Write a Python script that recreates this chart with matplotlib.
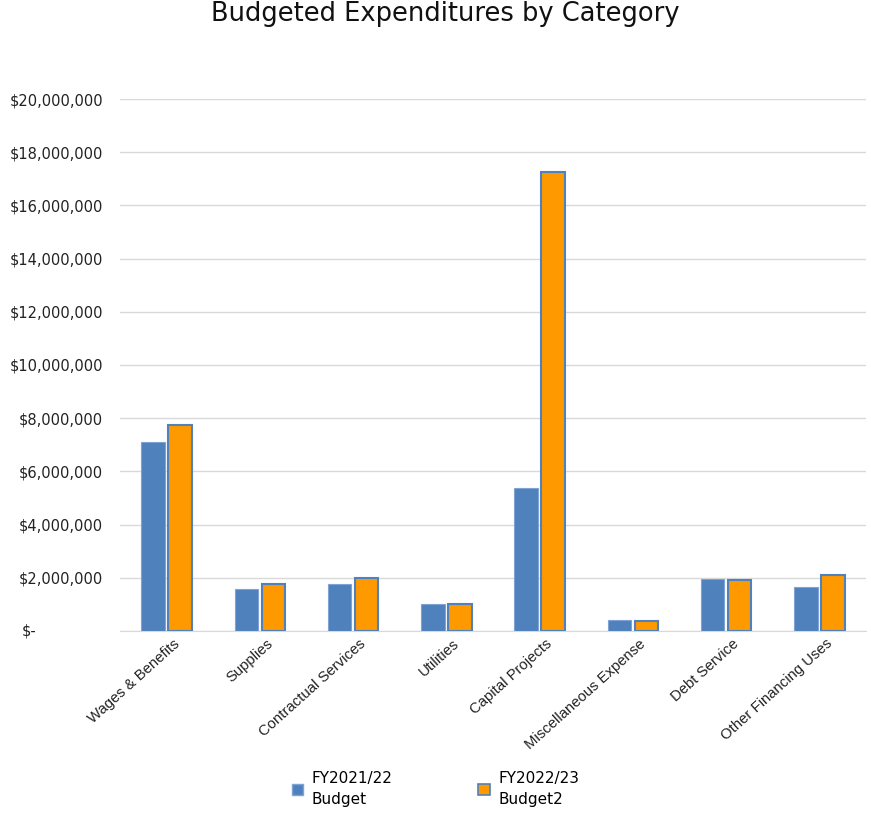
import matplotlib
matplotlib.use("Agg")
import matplotlib.pyplot as plt
import matplotlib.transforms as mtransforms
import numpy as np
from matplotlib.patches import Patch
from matplotlib.ticker import FuncFormatter

categories = ["Wages & Benefits", "Supplies", "Contractual Services", "Utilities",
              "Capital Projects", "Miscellaneous Expense", "Debt Service", "Other Financing Uses"]
fy2122 = [7100000, 1580000, 1770000, 1000000, 5380000, 410000, 1950000, 1660000]
fy2223 = [7740000, 1770000, 2000000, 1020000, 17260000, 390000, 1930000, 2120000]
series_labels = ["FY2021/22\nBudget", "FY2022/23\nBudget2"]

plt.rcParams['font.family'] = ['DejaVu Sans']

blue = "#4F81BD"
orange = "#FF9900"

fig = plt.figure(figsize=(8.71, 8.14), dpi=100)
ax = fig.add_axes([120/871, 1-631/814, (866-120)/871, (631-99)/814])

x = np.arange(len(categories))
w = 0.25
gap = 0.02
ax.bar(x - w/2 - gap, fy2122, width=w, color=blue, edgecolor="#7FA3D4", linewidth=0.8, zorder=3)
ax.bar(x + w/2 + gap, fy2223, width=w, color=orange, edgecolor=blue, linewidth=1.5, zorder=3)

ax.set_xlim(-0.5, len(categories) - 0.5)
ax.set_ylim(0, 20000000)
ax.set_yticks(np.arange(0, 20000001, 2000000))

def fmt(v, pos):
    if v == 0:
        return ""
    return "${:,.0f}".format(v)
ax.yaxis.set_major_formatter(FuncFormatter(fmt))
ax.annotate("$-", xy=(0, 0), xycoords=('axes fraction', 'data'),
            xytext=(-98*0.72, 0), textcoords='offset points',
            ha='left', va='center', fontsize=10.5, color="#222222")

ax.grid(axis='y', color="#D9D9D9", linewidth=1, zorder=0)
for s in ['left', 'right', 'top']:
    ax.spines[s].set_visible(False)
ax.spines['bottom'].set_color("#D9D9D9")
ax.tick_params(axis='y', length=0, labelsize=10.5, colors="#222222", pad=12)
ax.tick_params(axis='x', length=0, labelsize=10.7, colors="#222222", pad=4)
ax.set_xticks(x)
ax.set_xticklabels(categories, rotation=42, ha='right', rotation_mode='anchor',
                   family=['Liberation Sans', 'DejaVu Sans'])
off = mtransforms.ScaledTranslation(6/100, 0, fig.dpi_scale_trans)
for lab in ax.get_xticklabels():
    lab.set_transform(lab.get_transform() + off)

fig.text(0.511, 1-14/814, "Budgeted Expenditures by Category", ha='center', va='center',
         fontsize=18.5, color="#111111")

handles = [Patch(facecolor=blue, edgecolor="#7FA3D4"), Patch(facecolor=orange, edgecolor=blue, linewidth=1.2)]
leg = fig.legend(handles, series_labels, loc='center', bbox_to_anchor=(0.5, 1-789/814), ncol=2,
                 frameon=False, fontsize=11, handlelength=0.75, handleheight=0.75, columnspacing=5.6,
                 handletextpad=0.55, borderaxespad=0)
for t in leg.get_texts():
    t.set_linespacing(1.45)

fig.savefig("out.png", dpi=100)
